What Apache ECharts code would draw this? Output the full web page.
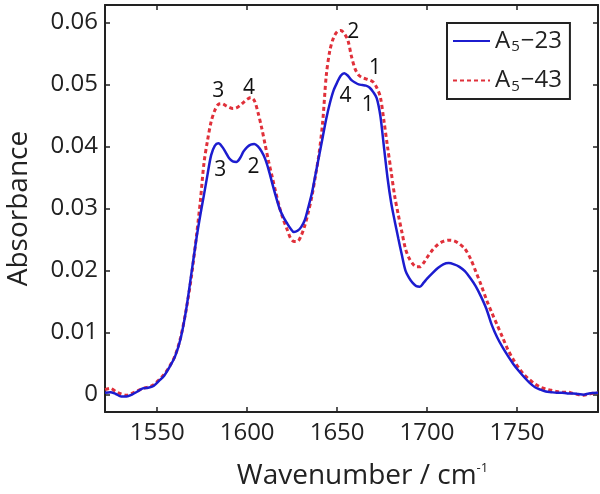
<!DOCTYPE html>
<html>
<head>
<meta charset="utf-8">
<script src="https://cdn.jsdelivr.net/npm/echarts@6/dist/echarts.min.js"></script>
<style>html,body{margin:0;padding:0;background:#fff}#c{width:600px;height:494px}</style>
</head>
<body>
<div id="c"></div>
<script>
// ---- data ----
var xTicks = [1550, 1600, 1650, 1700, 1750];
var yTicks = [0, 0.01, 0.02, 0.03, 0.04, 0.05, 0.06];

var blueW = [1521,1524,1527,1530,1533,1536,1539,1542,1545,1548,1551,1554,1557,1560,1563,1566,1569,1572,1574,1576,1578,1580,1582,1584,1586,1588,1590,1592,1594,1596,1598,1600,1602,1604,1606,1608,1610,1612,1614,1616,1618,1620,1622,1624,1626,1628,1630,1632,1634,1636,1638,1640,1642,1644,1646,1648,1650,1652,1654,1656,1658,1660,1662,1664,1666,1668,1670,1672,1674,1676,1678,1680,1682,1684,1686,1688,1690,1692,1694,1696,1698,1700,1703,1706,1709,1712,1715,1718,1721,1724,1727,1730,1733,1736,1739,1742,1745,1748,1751,1754,1757,1760,1763,1766,1769,1772,1775,1778,1781,1784,1787,1790,1795];
var blueA = [0.0003,0.0004,0.0001,-0.0003,-0.0003,0.0000,0.0005,0.0010,0.0011,0.0014,0.0022,0.0031,0.0045,0.0062,0.0090,0.0135,0.0195,0.0255,0.0290,0.0322,0.0355,0.0386,0.0401,0.0405,0.0400,0.0391,0.0381,0.0376,0.0375,0.0381,0.0392,0.0399,0.0403,0.0404,0.0400,0.0392,0.0380,0.0362,0.0340,0.0319,0.0300,0.0287,0.0277,0.0268,0.0262,0.0264,0.0270,0.0281,0.0302,0.0325,0.0355,0.0385,0.0415,0.0445,0.0470,0.0490,0.0503,0.0514,0.0518,0.0514,0.0507,0.0503,0.0500,0.0499,0.0498,0.0495,0.0488,0.0478,0.0450,0.0400,0.0350,0.0310,0.0280,0.0252,0.0225,0.0200,0.0188,0.0180,0.0175,0.0174,0.0180,0.0187,0.0196,0.0204,0.0210,0.0212,0.0210,0.0206,0.0199,0.0188,0.0175,0.0158,0.0138,0.0112,0.0092,0.0076,0.0062,0.0049,0.0038,0.0028,0.0019,0.0012,0.0008,0.0005,0.0004,0.0003,0.0003,0.0002,0.0002,0.0001,0.0000,0.0002,0.0003];

var redW = [1521,1524,1527,1530,1533,1536,1539,1542,1545,1548,1551,1554,1557,1560,1563,1566,1569,1572,1574,1576,1578,1580,1582,1584,1586,1588,1590,1592,1594,1596,1598,1600,1602,1604,1606,1608,1610,1612,1614,1616,1618,1620,1622,1624,1626,1628,1630,1632,1634,1636,1638,1640,1642,1644,1646,1648,1650,1652,1654,1656,1658,1660,1662,1664,1666,1668,1670,1672,1674,1676,1678,1680,1682,1684,1686,1688,1690,1692,1694,1696,1698,1700,1703,1706,1709,1712,1715,1718,1721,1724,1727,1730,1733,1736,1739,1742,1745,1748,1751,1754,1757,1760,1763,1766,1769,1772,1775,1778,1781,1784,1787,1790,1795];
var redA = [0.0008,0.0010,0.0005,0.0001,-0.0001,0.0002,0.0006,0.0010,0.0012,0.0016,0.0024,0.0033,0.0046,0.0063,0.0092,0.0135,0.0190,0.0260,0.0312,0.0373,0.0410,0.0440,0.0458,0.0468,0.0469,0.0466,0.0463,0.0461,0.0462,0.0466,0.0471,0.0476,0.0479,0.0474,0.0455,0.0431,0.0403,0.0375,0.0350,0.0325,0.0302,0.0283,0.0268,0.0253,0.0247,0.0247,0.0256,0.0272,0.0294,0.0320,0.0353,0.0389,0.0440,0.0515,0.0555,0.0575,0.0585,0.0587,0.0582,0.0571,0.0545,0.0525,0.0515,0.0511,0.0509,0.0507,0.0504,0.0495,0.0480,0.0442,0.0400,0.0360,0.0320,0.0290,0.0262,0.0235,0.0220,0.0211,0.0206,0.0206,0.0212,0.0221,0.0233,0.0242,0.0247,0.0249,0.0248,0.0243,0.0235,0.0220,0.0199,0.0177,0.0153,0.0132,0.0112,0.0092,0.0072,0.0056,0.0043,0.0032,0.0024,0.0017,0.0012,0.0009,0.0007,0.0005,0.0004,0.0004,0.0002,0.0000,-0.0001,0.0001,0.0003];

// peak annotations: [wavenumber, absorbance, text]
var redPeakLabels = [[1584, 0.0490, '3'], [1601, 0.0494, '4'], [1659, 0.0585, '2'], [1671, 0.0527, '1']];
var bluePeakLabels = [[1585, 0.0362, '3'], [1603.5, 0.0367, '2'], [1654.7, 0.0482, '4'], [1667, 0.0466, '1']];

var seriesNames = ['A5-23', 'A5-43'];

// ---- chart ----
function zip(w, a) { return w.map(function (v, i) { return [v, a[i]]; }); }
var FONT = 'Open Sans';
var AXC = '#222';

var chart = echarts.init(document.getElementById('c'), null, { renderer: 'canvas' });
var xBase = {
  type: 'value', min: 1521, max: 1795,
  axisLine: { show: true, onZero: false, lineStyle: { color: AXC, width: 2 } },
  axisTick: { show: true, inside: true, length: 5, customValues: xTicks, lineStyle: { color: AXC, width: 1.5 } },
  splitLine: { show: false }
};
var yBase = {
  type: 'value', min: -0.0028, max: 0.0628,
  axisLine: { show: true, onZero: false, lineStyle: { color: AXC, width: 2 } },
  axisTick: { show: true, inside: true, length: 5, customValues: yTicks, lineStyle: { color: AXC, width: 1.5 } },
  splitLine: { show: false }
};

var option = {
  animation: false,
  backgroundColor: '#fff',
  grid: { left: 105, right: 2, top: 5, bottom: 82, containLabel: false, outerBoundsMode: 'none' },
  xAxis: [
    Object.assign({}, xBase, {
      position: 'bottom',
      axisLabel: { customValues: xTicks, fontFamily: FONT, fontSize: 24, color: AXC, margin: 9,
        formatter: function (v) { return String(v); } },
      name: '{t|Wavenumber / cm}{s|-1}',
      nameLocation: 'middle', nameGap: 50, nameMoveOverlap: false,
      nameTextStyle: {
        fontFamily: FONT, fontSize: 28, color: AXC, padding: [0, 0, 0, 22],
        rich: { t: { fontFamily: FONT, fontSize: 28, color: AXC }, s: { fontFamily: FONT, fontSize: 13, color: AXC, verticalAlign: 'top', padding: [0, 0, 14, 0] } }
      }
    }),
    Object.assign({}, xBase, { position: 'top', axisLabel: { show: false } })
  ],
  yAxis: [
    Object.assign({}, yBase, {
      position: 'left',
      axisLabel: { customValues: yTicks, fontFamily: FONT, fontSize: 24, color: AXC, margin: 7,
        formatter: function (v) { return Math.abs(v) < 1e-9 ? '0' : v.toFixed(2); } },
      name: 'Absorbance', nameLocation: 'middle', nameGap: 72, nameRotate: 90, nameMoveOverlap: false,
      nameTextStyle: { fontFamily: FONT, fontSize: 28, color: AXC }
    }),
    Object.assign({}, yBase, { position: 'right', axisLabel: { show: false } })
  ],
  legend: {
    data: seriesNames,
    orient: 'vertical', left: 447, top: 23,
    padding: [6, 8, 5, 5], itemGap: 14,
    itemWidth: 37, itemHeight: 14,
    itemStyle: { opacity: 0 },
    borderColor: AXC, borderWidth: 2, borderRadius: 0,
    formatter: function (n) { return '{a|A}{s|5}{a|' + n.slice(2).replace('-', '\u2212') + '}'; },
    textStyle: {
      fontFamily: FONT, fontSize: 24, color: AXC,
      rich: { a: { fontFamily: FONT, fontSize: 24, color: AXC }, s: { fontFamily: FONT, fontSize: 15, color: AXC, verticalAlign: 'bottom', padding: [12, 1, 0, 1] } }
    }
  },
  series: [
    {
      name: seriesNames[0], type: 'line', data: zip(blueW, blueA),
      symbol: 'none', smooth: 0.3, z: 3,
      lineStyle: { color: '#1c1ccf', width: 2.5 }, itemStyle: { color: '#1c1ccf' }
    },
    {
      name: seriesNames[1], type: 'line', data: zip(redW, redA),
      symbol: 'none', smooth: 0.3, z: 2,
      lineStyle: { color: '#e0303a', width: 3, type: [4, 3] }, itemStyle: { color: '#e0303a' }
    },
    {
      name: 'labels', type: 'scatter', symbolSize: 0, silent: true, z: 4,
      itemStyle: { opacity: 1 },
      data: redPeakLabels.concat(bluePeakLabels).map(function (p) { return { value: [p[0], p[1]], name: p[2] }; }),
      label: { show: true, position: 'inside', formatter: function (p) { return p.name; }, fontFamily: FONT, fontSize: 21, color: '#111', textBorderWidth: 0, opacity: 1 }
    }
  ]
};
chart.setOption(option);
</script>
</body>
</html>
